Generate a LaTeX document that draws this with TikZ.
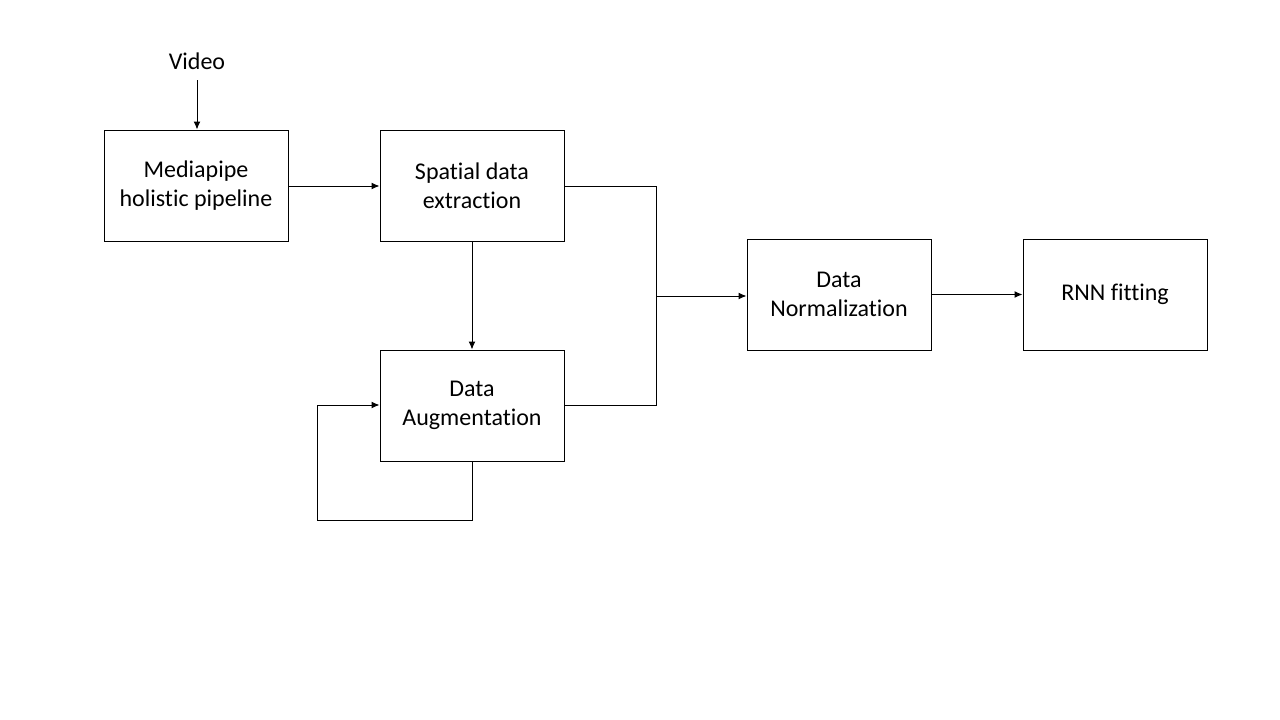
\documentclass[tikz,border=0pt]{standalone}
\usepackage{fontspec}
\setmainfont{Carlito}[Ligatures=NoCommon]
\usetikzlibrary{arrows.meta}
\begin{document}
\begin{tikzpicture}[x=1pt,y=-1pt,
  txt/.style={font=\fontsize{24}{29}\selectfont},
  box/.style={draw,txt,line width=1pt,minimum width=184pt,minimum height=111pt,inner sep=0pt,align=center},
  conn/.style={line width=1pt},
  arr/.style={conn,-{Latex[length=8pt,width=7pt]}}]
\useasboundingbox (0,0) rectangle (1280,720);
\node[txt] (video) at (197,61) {Video};
\node[box] (mp) at (196,185.5) {Mediapipe\\holistic pipeline};
\node[box] (sp) at (472,185.5) {Spatial data\\extraction};
\node[box] (aug) at (472,405.5) {Data\\Augmentation};
\node[box] (norm) at (839,294.5) {Data\\Normalization};
\node[box] (rnn) at (1115,294.5) {RNN fitting};
\coordinate (vs) at (197,80);
\coordinate (j1) at (656,186);
\coordinate (j2) at (656,405);
\coordinate (jm) at (656,296);
\coordinate (l1) at (472,520);
\coordinate (l2) at (317,520);
\coordinate (l3) at (317,405);
\draw[arr] (vs) -- (vs |- mp.north);
\draw[arr] (mp.east |- j1) -- (sp.west |- j1);
\draw[arr] (sp.south) -- (aug.north);
\draw[conn] (sp.east |- j1) -- (j1) -- (j2) -- (aug.east |- j2);
\draw[arr] (jm) -- (norm.west |- jm);
\draw[arr] (norm.east) -- (rnn.west);
\draw[arr] (aug.south) -- (l1) -- (l2) -- (l3) -- (aug.west |- l3);
\end{tikzpicture}
\end{document}
